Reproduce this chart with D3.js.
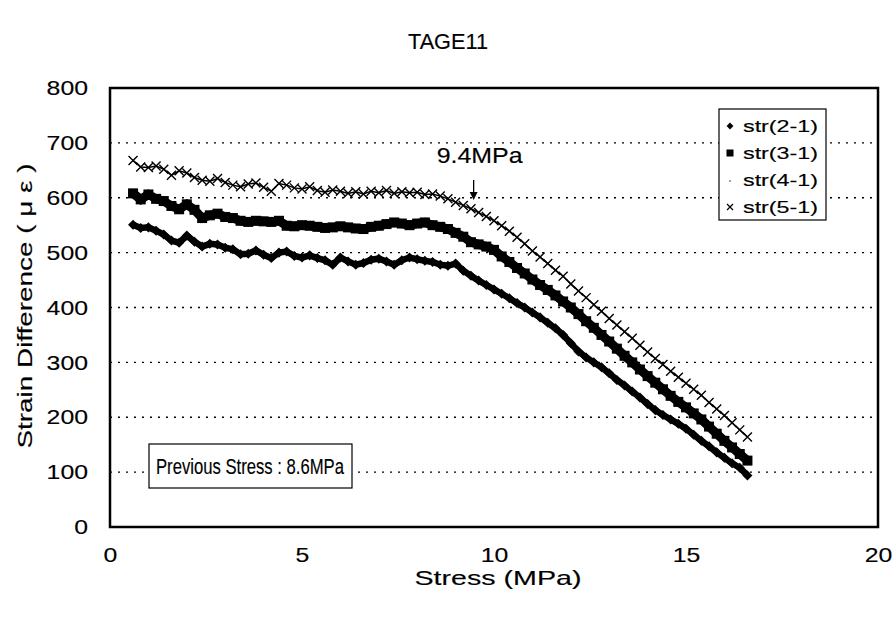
<!DOCTYPE html>
<html>
<head>
<meta charset="utf-8">
<script src="https://cdn.jsdelivr.net/npm/d3@7"></script>
<style>
  body { margin: 0; background: #fff; }
  text { font-family: "Liberation Sans", Arial, sans-serif; fill: #000; stroke: #000; stroke-width: 0.15px; }
</style>
</head>
<body>
<div id="chart-container"></div>
<script>
// Stress steps (MPa) for every reading
const stress = [
  0.6, 0.8, 1.0, 1.2, 1.4, 1.6, 1.8, 2.0, 2.2, 2.4, 2.6, 2.8, 3.0, 3.2, 3.4, 3.6, 3.8, 4.0, 4.2, 4.4,
  4.6, 4.8, 5.0, 5.2, 5.4, 5.6, 5.8, 6.0, 6.2, 6.4, 6.6, 6.8, 7.0, 7.2, 7.4, 7.6, 7.8, 8.0, 8.2, 8.4,
  8.6, 8.8, 9.0, 9.2, 9.4, 9.6, 9.8, 10.0, 10.2, 10.4, 10.6, 10.8, 11.0, 11.2, 11.4, 11.6, 11.8, 12.0, 12.2, 12.4,
  12.6, 12.8, 13.0, 13.2, 13.4, 13.6, 13.8, 14.0, 14.2, 14.4, 14.6, 14.8, 15.0, 15.2, 15.4, 15.6, 15.8, 16.0, 16.2, 16.4,
  16.6
];

// str(2-1) strain difference (micro strain)
const str21 = [
  551, 545, 546, 540, 533, 522, 518, 531, 520, 511, 516, 515, 509, 506, 497, 498, 504, 496, 490, 500,
  502, 494, 491, 495, 490, 486, 478, 491, 484, 478, 481, 487, 489, 484, 478, 486, 491, 488, 485, 483,
  478, 476, 480, 467, 458, 449, 441, 433, 425, 417, 408, 400, 391, 382, 372, 362, 350, 335, 320, 309,
  300, 291, 280, 268, 258, 247, 236, 224, 213, 204, 196, 188, 179, 168, 157, 147, 136, 126, 116, 108,
  94
];

// str(3-1)
const str31 = [
  608, 597, 606, 598, 594, 585, 579, 588, 578, 563, 568, 571, 565, 563, 558, 556, 558, 557, 556, 558,
  549, 548, 550, 549, 547, 545, 546, 548, 546, 544, 543, 547, 549, 552, 555, 553, 550, 553, 555, 550,
  547, 543, 536, 529, 519, 515, 511, 505, 493, 483, 472, 462, 451, 441, 432, 422, 411, 400, 388, 375,
  363, 350, 338, 325, 312, 300, 287, 275, 263, 251, 239, 228, 218, 207, 196, 183, 170, 157, 145, 133,
  121
];

// str(4-1) has no visible readings in the chart
const str41 = [];

// str(5-1)
const str51 = [
  668, 656, 655, 658, 652, 641, 649, 645, 637, 632, 630, 635, 628, 623, 620, 625, 627, 619, 612, 626,
  623, 618, 616, 620, 613, 610, 614, 612, 608, 611, 607, 612, 609, 613, 608, 611, 609, 610, 606, 607,
  603, 598, 592, 586, 580, 573, 566, 558, 549, 539, 528, 516, 503, 492, 480, 468, 457, 443, 430, 418,
  405, 393, 380, 368, 356, 344, 331, 319, 307, 296, 284, 273, 262, 251, 240, 227, 215, 203, 190, 177,
  164
];

const seriesNames = ['str(2-1)', 'str(3-1)', 'str(4-1)', 'str(5-1)'];
const xTicks = [0, 5, 10, 15, 20];
const yTicks = [0, 100, 200, 300, 400, 500, 600, 700, 800];
const gridValues = [100, 200, 300, 400, 500, 600, 700];
const arrowStress = 9.47;

// Chart configuration
const width = 896;
const height = 618;
const margin = { top: 88, right: 18, left: 110, bottom: 91 };
const plotW = width - margin.left - margin.right;
const plotH = height - margin.top - margin.bottom;

const svg = d3.select('#chart-container')
  .append('svg')
  .attr('width', width)
  .attr('height', height);

const chart = svg.append('g')
  .attr('transform', `translate(${margin.left}, ${margin.top})`);

const xScale = d3.scaleLinear().domain([0, 20]).range([0, plotW]);
const yScale = d3.scaleLinear().domain([0, 800]).range([plotH, 0]);

// Dotted gridlines
chart.selectAll('.grid')
  .data(gridValues)
  .enter()
  .append('line')
  .attr('x1', 0)
  .attr('x2', plotW)
  .attr('y1', d => yScale(d))
  .attr('y2', d => yScale(d))
  .attr('stroke', '#000')
  .attr('stroke-width', 1.4)
  .attr('stroke-dasharray', '2,6');

// Axes (labels only, the frame is drawn below)
const xAxis = chart.append('g')
  .attr('transform', `translate(0, ${plotH})`)
  .call(d3.axisBottom(xScale).tickValues(xTicks).tickSize(0).tickPadding(20));

const yAxis = chart.append('g')
  .call(d3.axisLeft(yScale).tickValues(yTicks).tickSize(0).tickPadding(22));

[xAxis, yAxis].forEach(ax => {
  ax.select('.domain').remove();
  ax.selectAll('text')
    .attr('font-size', 21)
    .attr('font-family', '"Liberation Sans", Arial, sans-serif')
    .attr('fill', '#000')
    .attr('textLength', function() { return this.textContent.length * 13.8; })
    .attr('lengthAdjust', 'spacingAndGlyphs');
});

// Series data
const toPoints = vals => vals.map((v, i) => ({ s: stress[i], v: v }));
const line = d3.line().x(d => xScale(d.s)).y(d => yScale(d.v));

// str(2-1): diamonds
chart.append('path')
  .datum(toPoints(str21))
  .attr('d', line)
  .attr('fill', 'none')
  .attr('stroke', '#000')
  .attr('stroke-width', 6.5);

chart.selectAll('.p21')
  .data(toPoints(str21))
  .enter()
  .append('path')
  .attr('transform', d => `translate(${xScale(d.s)}, ${yScale(d.v)})`)
  .attr('d', d3.symbol(d3.symbolDiamond2, 64))
  .attr('fill', '#000');

// str(3-1): squares
chart.append('path')
  .datum(toPoints(str31))
  .attr('d', line)
  .attr('fill', 'none')
  .attr('stroke', '#000')
  .attr('stroke-width', 9);

chart.selectAll('.p31')
  .data(toPoints(str31))
  .enter()
  .append('rect')
  .attr('x', d => xScale(d.s) - 5)
  .attr('y', d => yScale(d.v) - 5)
  .attr('width', 10)
  .attr('height', 10)
  .attr('fill', '#000');

// str(4-1): tiny dots
chart.selectAll('.p41')
  .data(toPoints(str41))
  .enter()
  .append('circle')
  .attr('cx', d => xScale(d.s))
  .attr('cy', d => yScale(d.v))
  .attr('r', 1)
  .attr('fill', '#888');

// str(5-1): crosses
chart.append('path')
  .datum(toPoints(str51))
  .attr('d', line)
  .attr('fill', 'none')
  .attr('stroke', '#000')
  .attr('stroke-width', 1.5);

chart.selectAll('.p51')
  .data(toPoints(str51))
  .enter()
  .append('path')
  .attr('transform', d => `translate(${xScale(d.s)}, ${yScale(d.v)})`)
  .attr('d', 'M-4.5,-4.5L4.5,4.5M-4.5,4.5L4.5,-4.5')
  .attr('stroke', '#000')
  .attr('stroke-width', 1.4)
  .attr('fill', 'none');

// Plot frame
chart.append('rect')
  .attr('x', 0)
  .attr('y', 0)
  .attr('width', plotW)
  .attr('height', plotH)
  .attr('fill', 'none')
  .attr('stroke', '#000')
  .attr('stroke-width', 2.5);

// 9.4MPa annotation with arrow
const ax = xScale(arrowStress);
chart.append('line')
  .attr('x1', ax)
  .attr('x2', ax)
  .attr('y1', 92)
  .attr('y2', 106)
  .attr('stroke', '#000')
  .attr('stroke-width', 1.3);

chart.append('path')
  .attr('d', `M${ax - 4},${104}L${ax + 4},${104}L${ax},${112}Z`)
  .attr('fill', '#000');

chart.append('text')
  .attr('x', ax + 6)
  .attr('y', 75)
  .attr('text-anchor', 'middle')
  .attr('font-size', 22)
  .attr('textLength', 86)
  .attr('lengthAdjust', 'spacingAndGlyphs')
  .text('9.4MPa');

// Previous stress box
chart.append('rect')
  .attr('x', 39)
  .attr('y', 356)
  .attr('width', 203)
  .attr('height', 44)
  .attr('fill', '#fff')
  .attr('stroke', '#000')
  .attr('stroke-width', 1.2);

chart.append('text')
  .attr('x', 46)
  .attr('y', 386)
  .attr('font-size', 22)
  .attr('textLength', 188)
  .attr('lengthAdjust', 'spacingAndGlyphs')
  .text('Previous Stress : 8.6MPa');

// Title
svg.append('text')
  .attr('x', 448)
  .attr('y', 49)
  .attr('text-anchor', 'middle')
  .attr('font-size', 22)
  .attr('textLength', 80)
  .attr('lengthAdjust', 'spacingAndGlyphs')
  .text('TAGE11');

// Axis titles
svg.append('text')
  .attr('x', 498)
  .attr('y', 585)
  .attr('text-anchor', 'middle')
  .attr('font-size', 21)
  .attr('textLength', 167)
  .attr('lengthAdjust', 'spacingAndGlyphs')
  .text('Stress (MPa)');

svg.append('text')
  .attr('transform', 'translate(32, 306) rotate(-90)')
  .attr('text-anchor', 'middle')
  .attr('font-size', 21)
  .attr('textLength', 285)
  .attr('lengthAdjust', 'spacingAndGlyphs')
  .text('Strain Difference ( μ ε )');

// Legend
const legend = svg.append('g')
  .attr('transform', 'translate(719, 109)');

legend.append('rect')
  .attr('width', 107)
  .attr('height', 111)
  .attr('fill', '#fff')
  .attr('stroke', '#000')
  .attr('stroke-width', 1.2);

const rowY = [17, 44, 71, 98];

legend.append('path')
  .attr('transform', `translate(11, ${rowY[0]})`)
  .attr('d', d3.symbol(d3.symbolDiamond2, 30))
  .attr('fill', '#000');

legend.append('rect')
  .attr('x', 7.5)
  .attr('y', rowY[1] - 3.5)
  .attr('width', 7)
  .attr('height', 7)
  .attr('fill', '#000');

legend.append('circle')
  .attr('cx', 11)
  .attr('cy', rowY[2] + 1)
  .attr('r', 1)
  .attr('fill', '#888');

legend.append('path')
  .attr('transform', `translate(11, ${rowY[3]})`)
  .attr('d', 'M-3,-3L3,3M-3,3L3,-3')
  .attr('stroke', '#000')
  .attr('stroke-width', 1.2);

legend.selectAll('.label')
  .data(seriesNames)
  .enter()
  .append('text')
  .attr('x', 24)
  .attr('y', (d, i) => rowY[i] + 6)
  .attr('font-size', 17)
  .attr('textLength', 75)
  .attr('lengthAdjust', 'spacingAndGlyphs')
  .text(d => d);
</script>
</body>
</html>
